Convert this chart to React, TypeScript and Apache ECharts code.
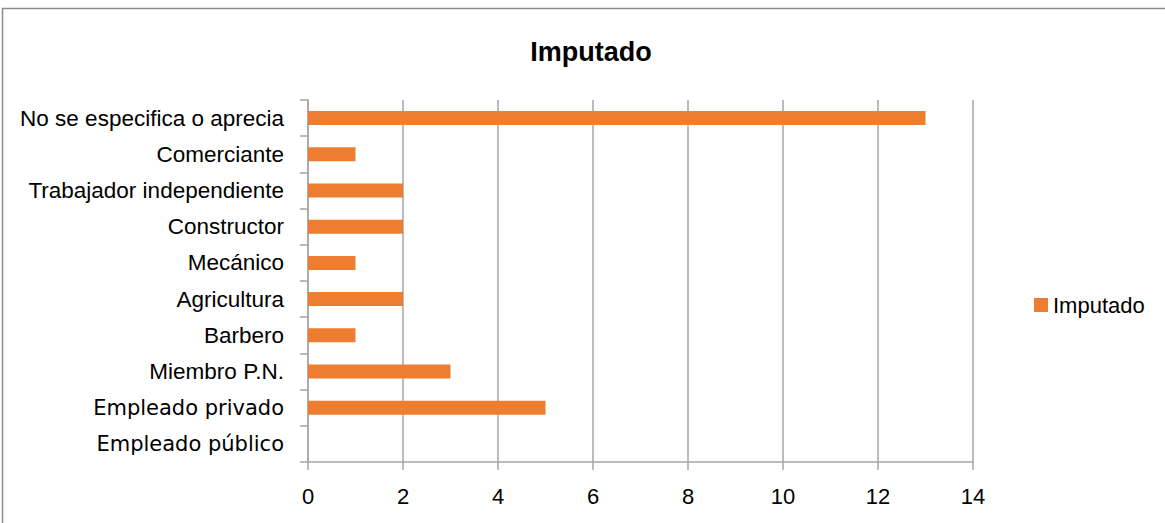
import React, { useEffect, useRef } from "react";
import * as echarts from "echarts";

const categories = [
  "No se especifica o aprecia",
  "Comerciante",
  "Trabajador independiente",
  "Constructor",
  "Mecánico",
  "Agricultura",
  "Barbero",
  "Miembro P.N.",
  "Empleado privado",
  "Empleado público",
];
const values = [13, 1, 2, 2, 1, 2, 1, 3, 5, 0];
const wideLabels = ["Empleado privado", "Empleado público"];
const seriesName = "Imputado";
const titleText = "Imputado";

const SANS = "'Liberation Sans', Arial, sans-serif";

export default function App() {
  const ref = useRef<HTMLDivElement>(null);
  useEffect(() => {
    if (!ref.current) return;
    const chart = echarts.init(ref.current, undefined, { renderer: "svg" });
    chart.setOption({
      animation: false,
      backgroundColor: "#ffffff",
      title: {
        text: titleText,
        left: 586,
        textAlign: "center",
        top: 33,
        textStyle: { fontFamily: SANS, fontWeight: "bold", fontSize: 27, color: "#000" },
      },
      legend: {
        left: 1029,
        top: 289,
        icon: "rect",
        itemWidth: 14,
        itemHeight: 14,
        itemGap: 6,
        textStyle: { fontFamily: SANS, fontSize: 22, color: "#000" },
        data: [seriesName],
      },
      graphic: [
        {
          type: "rect",
          shape: { x: 2.5, y: 8.5, width: 1180, height: 540 },
          style: { fill: "none", stroke: "#8c8c8c", lineWidth: 1.5 },
          silent: true,
        },
      ],
      grid: {
        left: 308,
        right: 192,
        top: 100,
        bottom: 61,
        containLabel: false,
        outerBoundsMode: "none",
      },
      xAxis: {
        type: "value",
        min: 0,
        max: 14,
        interval: 2,
        axisLine: { show: true, lineStyle: { color: "#a6a6a6", width: 1.5 } },
        axisTick: { show: true, length: 8, lineStyle: { color: "#a6a6a6", width: 1.5 } },
        splitLine: { show: true, lineStyle: { color: "#a6a6a6", width: 1.5 } },
        axisLabel: { fontFamily: SANS, fontSize: 22, color: "#000", margin: 23 },
      },
      yAxis: {
        type: "category",
        inverse: true,
        data: categories,
        axisLine: { show: true, lineStyle: { color: "#a6a6a6", width: 1.5 } },
        axisTick: { show: true, length: 8, alignWithLabel: false, lineStyle: { color: "#a6a6a6", width: 1.5 } },
        axisLabel: {
          fontFamily: SANS,
          fontSize: 22.5,
          color: "#000",
          margin: 24,
          formatter: (v: string) => (wideLabels.includes(v) ? `{w|${v}}` : v),
          rich: {
            w: { fontFamily: "'DejaVu Sans', sans-serif", fontSize: 21, color: "#000" },
          },
        },
      },
      series: [
        {
          name: seriesName,
          type: "bar",
          data: values,
          barWidth: 14,
          itemStyle: { color: "#ED7D31" },
        },
      ],
    });
    return () => chart.dispose();
  }, []);
  return <div ref={ref} style={{ width: 1165, height: 523, position: "absolute", left: 0, top: 0 }} />;
}
